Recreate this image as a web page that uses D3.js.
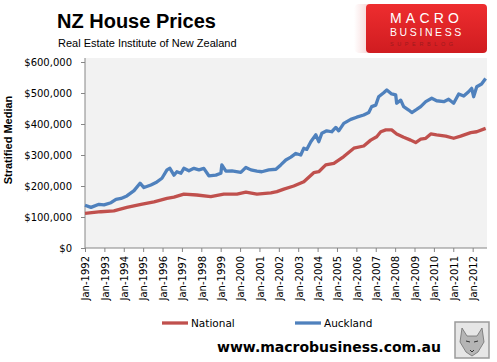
<!DOCTYPE html>
<html>
<head>
<meta charset="utf-8">
<script src="https://cdn.jsdelivr.net/npm/d3@7"></script>
<style>
  body { margin: 0; background: #fff; }
  svg { display: block; }
</style>
</head>
<body>
<div id="chart"></div>
<script>
// values (decimal year, stratified median $)
const aklDates = [1992.0, 1992.31, 1992.72, 1992.98, 1993.34, 1993.6, 1993.86, 1994.16, 1994.53, 1994.84,
  1995.04, 1995.4, 1995.66, 1995.97, 1996.23, 1996.38, 1996.59, 1996.74, 1996.95, 1997.1,
  1997.36, 1997.62, 1997.88, 1998.13, 1998.39, 1998.75, 1999.01, 1999.06, 1999.27, 1999.58,
  2000.04, 2000.3, 2000.56, 2000.87, 2001.12, 2001.48, 2001.85, 2002.1, 2002.36, 2002.62,
  2002.88, 2003.13, 2003.29, 2003.44, 2003.65, 2003.91, 2004.06, 2004.22, 2004.47, 2004.73,
  2004.94, 2005.09, 2005.35, 2005.71, 2006.02, 2006.38, 2006.64, 2006.79, 2007.0, 2007.15,
  2007.41, 2007.57, 2007.82, 2008.03, 2008.08, 2008.29, 2008.44, 2008.7, 2008.86, 2009.11,
  2009.32, 2009.58, 2009.89, 2010.14, 2010.51, 2010.76, 2011.02, 2011.28, 2011.54, 2011.79,
  2011.95, 2012.05, 2012.21, 2012.46, 2012.67];
const aklValues = [138000, 131000, 141000, 139000, 146000, 157000, 160000, 168000, 185000, 209000,
  195000, 203000, 211000, 225000, 252000, 257000, 235000, 246000, 241000, 257000,
  249000, 257000, 252000, 257000, 233000, 235000, 241000, 268000, 248000, 249000,
  244000, 260000, 252000, 248000, 246000, 252000, 254000, 268000, 284000, 293000,
  305000, 300000, 322000, 318000, 343000, 365000, 343000, 370000, 378000, 375000,
  389000, 378000, 402000, 415000, 422000, 429000, 437000, 456000, 461000, 488000,
  501000, 510000, 497000, 494000, 467000, 477000, 456000, 445000, 437000, 447000,
  456000, 472000, 483000, 475000, 472000, 480000, 467000, 497000, 490000, 504000,
  515000, 488000, 520000, 529000, 547000];

const natDates = [1992.0, 1992.82, 1993.49, 1994.16, 1994.89, 1995.56, 1996.23, 1996.59, 1997.1, 1997.77,
  1998.49, 1999.16, 1999.84, 2000.3, 2000.87, 2001.59, 2001.9, 2002.26, 2002.77, 2003.29,
  2003.8, 2004.06, 2004.42, 2004.84, 2005.35, 2005.87, 2006.38, 2006.74, 2007.05, 2007.26,
  2007.52, 2007.82, 2008.08, 2008.44, 2008.8, 2009.06, 2009.32, 2009.58, 2009.84, 2010.14,
  2010.61, 2011.02, 2011.38, 2011.9, 2012.21, 2012.67];
const natValues = [112000, 117000, 120000, 131000, 141000, 149000, 160000, 164000, 174000, 171000,
  166000, 174000, 174000, 180000, 174000, 178000, 182000, 190000, 200000, 214000,
  243000, 246000, 268000, 273000, 295000, 322000, 329000, 348000, 359000, 375000,
  381000, 381000, 368000, 357000, 348000, 340000, 351000, 354000, 368000, 365000,
  361000, 354000, 361000, 372000, 375000, 386000];

const yearTicks = [1992, 1993, 1994, 1995, 1996, 1997, 1998, 1999, 2000, 2001, 2002,
  2003, 2004, 2005, 2006, 2007, 2008, 2009, 2010, 2011, 2012];
const valueTicks = [0, 100000, 200000, 300000, 400000, 500000, 600000];

const seriesNames = ["National", "Auckland"];
const colors = {National: "#C0504D", Auckland: "#4F81BD"};

const width = 497, height = 362;
const plot = {left: 85, right: 487, top: 58, bottom: 248};

const svg = d3.select("#chart").append("svg")
    .attr("width", width)
    .attr("height", height);

const x = d3.scaleLinear()
    .domain([1992, 2012.74])
    .range([plot.left, plot.right]);

const y = d3.scaleLinear()
    .domain([0, 600000])
    .range([plot.bottom, 62]);

// plot background
svg.append("rect")
    .attr("x", plot.left)
    .attr("y", plot.top)
    .attr("width", plot.right - plot.left)
    .attr("height", plot.bottom - plot.top)
    .attr("fill", "#F2F2F2");

// y axis
const yAxis = svg.append("g")
    .attr("transform", `translate(${plot.left},0)`)
    .call(d3.axisLeft(y).tickValues(valueTicks).tickSize(4).tickPadding(9)
      .tickFormat(d => "$" + d3.format(",")(d)));
yAxis.select(".domain").attr("d", `M0,${plot.top}V${plot.bottom}`);

// x axis
const xAxis = svg.append("g")
    .attr("transform", `translate(0,${plot.bottom})`)
    .call(d3.axisBottom(x).tickValues(yearTicks).tickSize(4).tickFormat(d => "Jan-" + d));
xAxis.select(".domain").attr("d", `M${plot.left},0H${plot.right}`);
xAxis.selectAll("text")
    .attr("transform", "rotate(-90)")
    .attr("text-anchor", "end")
    .attr("x", -8)
    .attr("y", 0)
    .attr("dy", "0.38em");

svg.selectAll(".domain, .tick line").attr("stroke", "#868686");
svg.selectAll(".tick text")
    .attr("fill", "#000")
    .style("font-family", "'DejaVu Sans', Verdana, sans-serif")
    .style("font-size", "10px");

// lines
const line = d3.line()
    .x(d => x(d[0]))
    .y(d => y(d[1]));

const series = [
  {name: "National", points: d3.zip(natDates, natValues)},
  {name: "Auckland", points: d3.zip(aklDates, aklValues)}
];

svg.selectAll(".series")
    .data(series)
  .enter().append("path")
    .attr("class", "series")
    .attr("d", d => line(d.points))
    .attr("fill", "none")
    .attr("stroke", d => colors[d.name])
    .attr("stroke-width", 3.3)
    .attr("stroke-linejoin", "round");

// titles
svg.append("text")
    .attr("x", 57).attr("y", 28)
    .style("font-family", "'Liberation Sans', Arial, sans-serif")
    .style("font-weight", "bold")
    .style("font-size", "20px")
    .text("NZ House Prices");

svg.append("text")
    .attr("x", 58).attr("y", 47)
    .style("font-family", "'Liberation Sans', Arial, sans-serif")
    .style("font-size", "11px")
    .text("Real Estate Institute of New Zealand");

svg.append("text")
    .attr("transform", "translate(12,140) rotate(-90)")
    .attr("text-anchor", "middle")
    .style("font-family", "'Liberation Sans', Arial, sans-serif")
    .style("font-weight", "bold")
    .style("font-size", "11px")
    .text("Stratified Median");

// legend
const legendX = {National: 162, Auckland: 295};
const legend = svg.selectAll(".legend")
    .data(seriesNames)
  .enter().append("g")
    .attr("class", "legend")
    .attr("transform", d => `translate(${legendX[d]},323)`);
legend.append("line")
    .attr("x1", 0).attr("x2", 26)
    .attr("stroke", d => colors[d])
    .attr("stroke-width", 3.3);
legend.append("text")
    .attr("x", 29).attr("dy", "0.35em")
    .style("font-family", "'DejaVu Sans', Verdana, sans-serif")
    .style("font-size", "10.5px")
    .text(d => d);

// footer
svg.append("text")
    .attr("x", 217).attr("y", 352)
    .style("font-family", "'DejaVu Sans', Verdana, sans-serif")
    .style("font-weight", "bold")
    .style("font-size", "14px")
    .text("www.macrobusiness.com.au");

// MacroBusiness logo
const defs = svg.append("defs");
const red = defs.append("linearGradient").attr("id", "logoRed")
    .attr("x1", 0).attr("y1", 0).attr("x2", 0).attr("y2", 1);
red.append("stop").attr("offset", 0).attr("stop-color", "#ee2d2f");
red.append("stop").attr("offset", 1).attr("stop-color", "#d01c20");
const fade = defs.append("linearGradient").attr("id", "logoFade");
fade.append("stop").attr("offset", 0).attr("stop-color", "#fff");
fade.append("stop").attr("offset", 1).attr("stop-color", "#f3c9c9");

svg.append("rect")
    .attr("x", 354).attr("y", 4).attr("width", 20).attr("height", 49)
    .attr("rx", 5)
    .attr("fill", "url(#logoFade)");
svg.append("rect")
    .attr("x", 366).attr("y", 4).attr("width", 121).attr("height", 49)
    .attr("rx", 4)
    .attr("fill", "url(#logoRed)");

const logoText = [
  {t: "MACRO", y: 23, size: 14, spacing: 4.2, fill: "#fff"},
  {t: "BUSINESS", y: 36, size: 10.5, spacing: 2.6, fill: "#fff"},
  {t: "SUPERBLOG", y: 46, size: 5.5, spacing: 3.6, fill: "#9e1a1d"}
];
svg.selectAll(".logo-text")
    .data(logoText)
  .enter().append("text")
    .attr("class", "logo-text")
    .attr("x", 390).attr("y", d => d.y)
    .attr("fill", d => d.fill)
    .style("font-family", "'Liberation Sans', Arial, sans-serif")
    .style("font-size", d => d.size + "px")
    .style("letter-spacing", d => d.spacing + "px")
    .text(d => d.t);

// wolf badge
const badge = svg.append("g").attr("transform", "translate(455,322)");
badge.append("rect")
    .attr("width", 34).attr("height", 36)
    .attr("fill", "#e6e6e6")
    .attr("stroke", "#9a9a9a")
    .attr("stroke-width", 1.5);
badge.append("path")
    .attr("d", "M7,6 L12,14 L22,14 L27,6 L29,20 L23,30 L17,34 L11,30 L5,20 Z")
    .attr("fill", "#b5b5b5")
    .attr("stroke", "#6e6e6e")
    .attr("stroke-width", 0.8);
badge.append("path")
    .attr("d", "M11,19 L15,20 M19,20 L23,19 M15,28 L17,30 L19,28")
    .attr("stroke", "#333")
    .attr("stroke-width", 1)
    .attr("fill", "none");
</script>
</body>
</html>
